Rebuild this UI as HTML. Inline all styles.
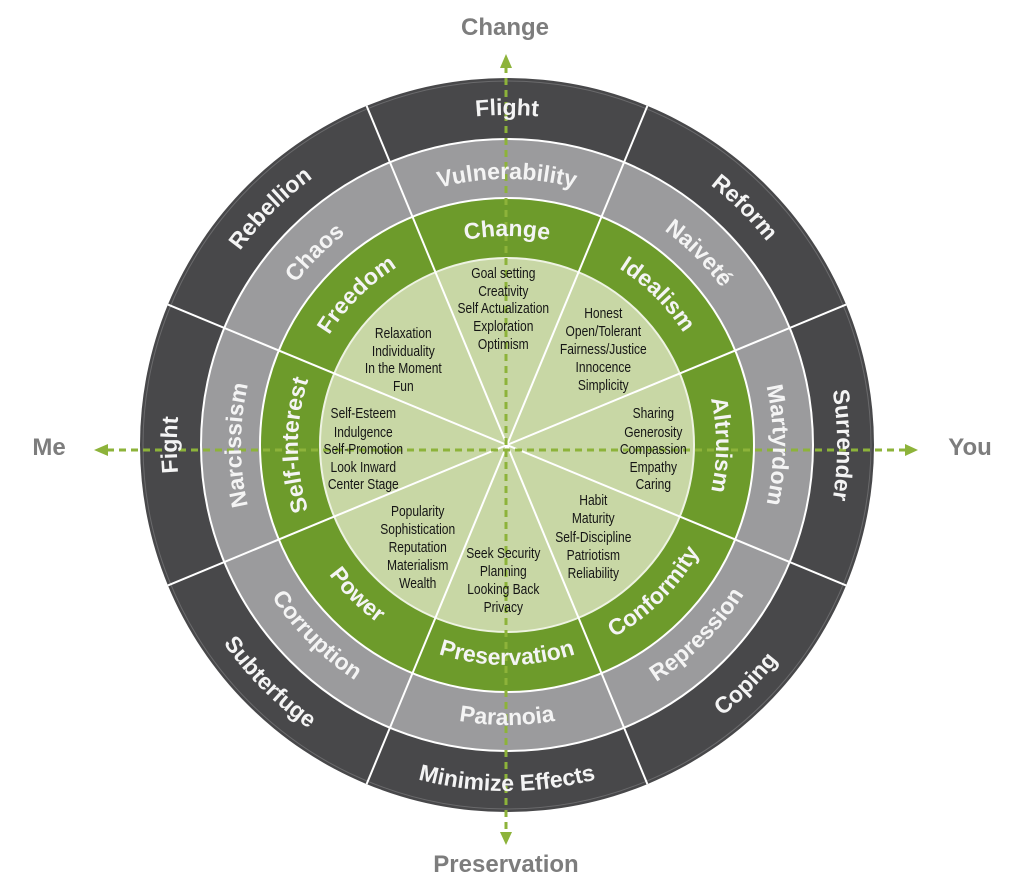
<!DOCTYPE html>
<html>
<head>
<meta charset="utf-8">
<style>
  html,body{margin:0;padding:0;background:#fff;}
  svg{display:block;}
  .ring{font-family:"Liberation Sans",Arial,sans-serif;font-weight:bold;font-size:23px;fill:#f4f4f4;}
  .axis{font-family:"Liberation Sans",Arial,sans-serif;font-weight:bold;font-size:24px;fill:#7d7d7d;}
  .inner{font-family:"Liberation Sans",Arial,sans-serif;font-size:14.5px;fill:#151515;}
</style>
</head>
<body>
<svg width="1024" height="887" viewBox="0 0 1024 887" xmlns="http://www.w3.org/2000/svg">
  <defs>
    <path id="cw328" d="M507,775 A330,330 0 1 1 507,115 A330,330 0 1 1 507,775"/>
    <path id="cw264" d="M507,711 A266,266 0 1 1 507,179 A266,266 0 1 1 507,711"/>
    <path id="cw207" d="M507,654 A209,209 0 1 1 507,236 A209,209 0 1 1 507,654"/>
    <path id="ccw345" d="M507,99 A346,346 0 1 0 507,791 A346,346 0 1 0 507,99"/>
    <path id="ccw280" d="M507,165 A280,280 0 1 0 507,725 A280,280 0 1 0 507,165"/>
    <path id="ccw217" d="M507,225 A220,220 0 1 0 507,665 A220,220 0 1 0 507,225"/>
  </defs>

  <!-- rings -->
  <circle cx="507" cy="445" r="367" fill="#48484a"/>
  <circle cx="507" cy="445" r="364" fill="none" stroke="#6a6a6c" stroke-width="1"/>
  <circle cx="507" cy="445" r="306" fill="#9b9b9d" stroke="#ffffff" stroke-width="2"/>
  <circle cx="507" cy="445" r="247" fill="#6d9b2b" stroke="#ffffff" stroke-width="2"/>
  <circle cx="507" cy="445" r="187" fill="#c8d7a5" stroke="#eef3e2" stroke-width="2"/>

  <!-- radial lines -->
  <g stroke="#ffffff" stroke-width="2">
    <line x1="647.4" y1="105.9" x2="366.6" y2="784.1"/>
    <line x1="846.1" y1="304.6" x2="167.9" y2="585.4"/>
    <line x1="846.1" y1="585.4" x2="167.9" y2="304.6"/>
    <line x1="366.6" y1="105.9" x2="647.4" y2="784.1"/>
  </g>

  <!-- dashed axes -->
  <g stroke="#8db33a" stroke-width="3" stroke-dasharray="7 5" fill="none">
    <line x1="506" y1="66" x2="506" y2="834"/>
    <line x1="107" y1="450" x2="906" y2="450"/>
  </g>
  <g fill="#8db33a">
    <polygon points="506,54 500,68 512,68"/>
    <polygon points="506,845 500,832 512,832"/>
    <polygon points="94,450 108,444 108,456"/>
    <polygon points="918,450 905,444 905,456"/>
  </g>

  <!-- outer ring labels -->
  <text class="ring"><textPath href="#cw328" startOffset="50%" text-anchor="middle">Flight</textPath></text>
  <text class="ring"><textPath href="#cw328" startOffset="62.5%" text-anchor="middle">Reform</textPath></text>
  <text class="ring"><textPath href="#cw328" startOffset="75%" text-anchor="middle">Surrender</textPath></text>
  <text class="ring"><textPath href="#cw328" startOffset="25%" text-anchor="middle">Fight</textPath></text>
  <text class="ring"><textPath href="#cw328" startOffset="37.5%" text-anchor="middle">Rebellion</textPath></text>
  <text class="ring"><textPath href="#ccw345" startOffset="62.5%" text-anchor="middle">Coping</textPath></text>
  <text class="ring"><textPath href="#ccw345" startOffset="50%" text-anchor="middle">Minimize Effects</textPath></text>
  <text class="ring"><textPath href="#ccw345" startOffset="37.5%" text-anchor="middle">Subterfuge</textPath></text>

  <!-- gray ring labels -->
  <text class="ring"><textPath href="#cw264" startOffset="50%" text-anchor="middle">Vulnerability</textPath></text>
  <text class="ring"><textPath href="#cw264" startOffset="62.5%" text-anchor="middle">Naiveté</textPath></text>
  <text class="ring"><textPath href="#cw264" startOffset="75%" text-anchor="middle">Martyrdom</textPath></text>
  <text class="ring"><textPath href="#cw264" startOffset="25%" text-anchor="middle">Narcissism</textPath></text>
  <text class="ring"><textPath href="#cw264" startOffset="37.5%" text-anchor="middle">Chaos</textPath></text>
  <text class="ring"><textPath href="#ccw280" startOffset="62.5%" text-anchor="middle">Repression</textPath></text>
  <text class="ring"><textPath href="#ccw280" startOffset="50%" text-anchor="middle">Paranoia</textPath></text>
  <text class="ring"><textPath href="#ccw280" startOffset="37.5%" text-anchor="middle">Corruption</textPath></text>

  <!-- green ring labels -->
  <text class="ring"><textPath href="#cw207" startOffset="50%" text-anchor="middle">Change</textPath></text>
  <text class="ring"><textPath href="#cw207" startOffset="62.5%" text-anchor="middle">Idealism</textPath></text>
  <text class="ring"><textPath href="#cw207" startOffset="75%" text-anchor="middle">Altruism</textPath></text>
  <text class="ring"><textPath href="#cw207" startOffset="25%" text-anchor="middle">Self-Interest</textPath></text>
  <text class="ring"><textPath href="#cw207" startOffset="37.5%" text-anchor="middle">Freedom</textPath></text>
  <text class="ring"><textPath href="#ccw217" startOffset="62.5%" text-anchor="middle">Conformity</textPath></text>
  <text class="ring"><textPath href="#ccw217" startOffset="50%" text-anchor="middle">Preservation</textPath></text>
  <text class="ring"><textPath href="#ccw217" startOffset="37.5%" text-anchor="middle">Power</textPath></text>

  <!-- inner text groups -->
  <g class="inner" text-anchor="middle" transform="translate(503.3,0) scale(0.83,1)">
    <text x="0" y="278">Goal setting</text>
    <text x="0" y="296">Creativity</text>
    <text x="0" y="313">Self Actualization</text>
    <text x="0" y="331">Exploration</text>
    <text x="0" y="349">Optimism</text>
  </g>
  <g class="inner" text-anchor="middle" transform="translate(603.3,0) scale(0.83,1)">
    <text x="0" y="318">Honest</text>
    <text x="0" y="336">Open/Tolerant</text>
    <text x="0" y="354">Fairness/Justice</text>
    <text x="0" y="372">Innocence</text>
    <text x="0" y="390">Simplicity</text>
  </g>
  <g class="inner" text-anchor="middle" transform="translate(403.3,0) scale(0.83,1)">
    <text x="0" y="338">Relaxation</text>
    <text x="0" y="356">Individuality</text>
    <text x="0" y="373">In the Moment</text>
    <text x="0" y="391">Fun</text>
  </g>
  <g class="inner" text-anchor="middle" transform="translate(363.3,0) scale(0.83,1)">
    <text x="0" y="418">Self-Esteem</text>
    <text x="0" y="437">Indulgence</text>
    <text x="0" y="454">Self-Promotion</text>
    <text x="0" y="472">Look Inward</text>
    <text x="0" y="489">Center Stage</text>
  </g>
  <g class="inner" text-anchor="middle" transform="translate(653.3,0) scale(0.83,1)">
    <text x="0" y="418">Sharing</text>
    <text x="0" y="437">Generosity</text>
    <text x="0" y="454">Compassion</text>
    <text x="0" y="472">Empathy</text>
    <text x="0" y="489">Caring</text>
  </g>
  <g class="inner" text-anchor="middle" transform="translate(417.7,0) scale(0.83,1)">
    <text x="0" y="516">Popularity</text>
    <text x="0" y="534">Sophistication</text>
    <text x="0" y="552">Reputation</text>
    <text x="0" y="570">Materialism</text>
    <text x="0" y="588">Wealth</text>
  </g>
  <g class="inner" text-anchor="middle" transform="translate(503.3,0) scale(0.83,1)">
    <text x="0" y="558">Seek Security</text>
    <text x="0" y="576">Planning</text>
    <text x="0" y="594">Looking Back</text>
    <text x="0" y="612">Privacy</text>
  </g>
  <g class="inner" text-anchor="middle" transform="translate(593.3,0) scale(0.83,1)">
    <text x="0" y="505">Habit</text>
    <text x="0" y="523">Maturity</text>
    <text x="0" y="542">Self-Discipline</text>
    <text x="0" y="560">Patriotism</text>
    <text x="0" y="578">Reliability</text>
  </g>

  <!-- axis labels -->
  <text class="axis" x="505" y="35" text-anchor="middle" font-size="25">Change</text>
  <text class="axis" x="506" y="872" text-anchor="middle" font-size="25">Preservation</text>
  <text class="axis" x="49" y="455" text-anchor="middle">Me</text>
  <text class="axis" x="970" y="455" text-anchor="middle">You</text>
</svg>
</body>
</html>
